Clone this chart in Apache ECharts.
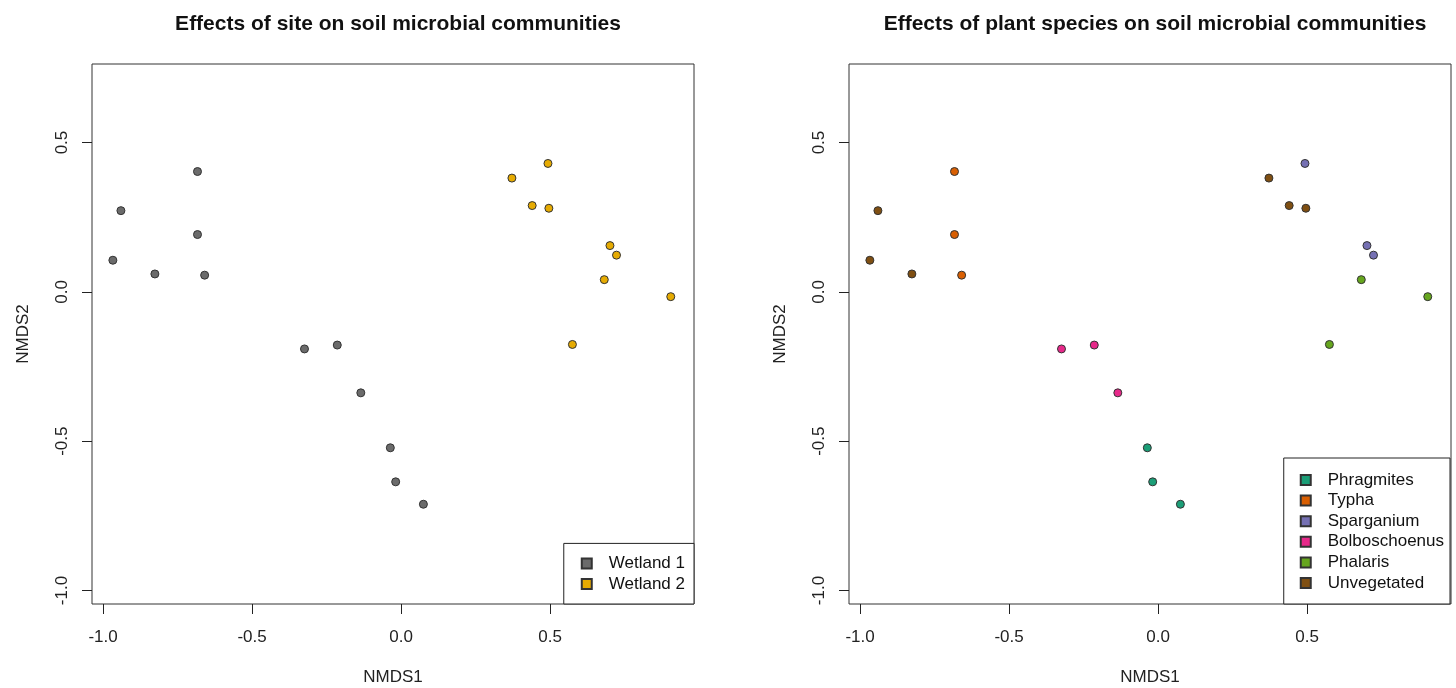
<!DOCTYPE html>
<html>
<head>
<meta charset="utf-8">
<title>NMDS soil microbial communities</title>
<script src="https://cdn.jsdelivr.net/npm/echarts@6/dist/echarts.min.js"></script>
<style>
  html, body { margin: 0; padding: 0; background: #fff; }
  #chart { width: 1456px; height: 688px; }
</style>
</head>
<body>
<div id="chart"></div>
<script>
// NMDS scores  [NMDS1, NMDS2]
const wetland1 = [
    [-0.967, 0.106], [-0.940, 0.272], [-0.826, 0.060],
    [-0.683, 0.403], [-0.683, 0.192], [-0.659, 0.056],
    [-0.324, -0.191], [-0.214, -0.178], [-0.135, -0.338],
    [-0.036, -0.522], [-0.018, -0.636], [0.075, -0.711]
];
const wetland2 = [
    [0.493, 0.430], [0.372, 0.381], [0.440, 0.289],
    [0.496, 0.280], [0.701, 0.155], [0.723, 0.123],
    [0.682, 0.041], [0.905, -0.016], [0.575, -0.176]
];

const phragmites = [[-0.036, -0.522], [-0.018, -0.636], [0.075, -0.711]];
const typha = [[-0.683, 0.403], [-0.683, 0.192], [-0.659, 0.056]];
const sparganium = [[0.493, 0.430], [0.701, 0.155], [0.723, 0.123]];
const bolboschoenus = [[-0.324, -0.191], [-0.214, -0.178], [-0.135, -0.338]];
const phalaris = [[0.682, 0.041], [0.905, -0.016], [0.575, -0.176]];
const unvegetated = [
    [-0.967, 0.106], [-0.940, 0.272], [-0.826, 0.060],
    [0.372, 0.381], [0.440, 0.289], [0.496, 0.280]
];

const siteNames = ['Wetland 1', 'Wetland 2'];
const siteColors = ['#6b6b6b', '#E6AB02'];
const speciesNames = ['Phragmites', 'Typha', 'Sparganium', 'Bolboschoenus', 'Phalaris', 'Unvegetated'];
const speciesColors = ['#1B9E77', '#D95F02', '#7570B3', '#E7298A', '#66A61E', '#7F4F12'];
const tickValues = [-1.0, -0.5, 0.0, 0.5];

const FONT = '"Liberation Sans", Arial, sans-serif';

const makeX = (idx) => ({
    gridIndex: idx,
    type: 'value',
    min: -1.037,
    max: 0.983,
    name: 'NMDS1',
    nameLocation: 'middle',
    nameGap: 65,
    nameTextStyle: { fontFamily: FONT, fontSize: 17, color: '#222' },
    axisLine: { show: false, onZero: false },
    axisTick: { show: true, inside: false, length: 10, customValues: tickValues,
        lineStyle: { color: '#222', width: 1 } },
    axisLabel: { customValues: tickValues, margin: 25, fontFamily: FONT, fontSize: 17, color: '#222',
        formatter: v => v.toFixed(1) },
    splitLine: { show: false }
});

const makeY = (idx) => ({
    gridIndex: idx,
    type: 'value',
    min: -1.045,
    max: 0.763,
    name: 'NMDS2',
    nameLocation: 'middle',
    nameGap: 60,
    nameTextStyle: { fontFamily: FONT, fontSize: 17, color: '#222' },
    axisLine: { show: false, onZero: false },
    axisTick: { show: true, inside: false, length: 10, customValues: tickValues,
        lineStyle: { color: '#222', width: 1 } },
    axisLabel: { customValues: tickValues, margin: 21, rotate: 90, fontFamily: FONT, fontSize: 17, color: '#222',
        formatter: v => v.toFixed(1) },
    splitLine: { show: false }
});

const makeSeries = (name, data, color, idx) => ({
    name: name,
    type: 'scatter',
    xAxisIndex: idx,
    yAxisIndex: idx,
    data: data,
    symbol: 'circle',
    symbolSize: 8,
    itemStyle: { color: color, borderColor: '#333', borderWidth: 1, opacity: 1 },
    emphasis: { disabled: true }
});

const legendBase = {
    orient: 'vertical',
    icon: 'rect',
    itemWidth: 10,
    itemHeight: 10,
    itemGap: 2.6,
    backgroundColor: '#fff',
    borderColor: '#222',
    borderWidth: 1,
    borderRadius: 0,
    textStyle: { fontFamily: FONT, fontSize: 17, color: '#111', lineHeight: 18, padding: [0, 0, 0, 12] }
};

const chart = echarts.init(document.getElementById('chart'));
chart.setOption({
    animation: false,
    backgroundColor: '#fff',
    title: [
        { text: 'Effects of site on soil microbial communities', left: 393, top: 9, textAlign: 'center',
          textStyle: { fontFamily: FONT, fontSize: 21, fontWeight: 'bold', color: '#111' } },
        { text: 'Effects of plant species on soil microbial communities', left: 1150, top: 9, textAlign: 'center',
          textStyle: { fontFamily: FONT, fontSize: 21, fontWeight: 'bold', color: '#111' } }
    ],
    grid: [
        { left: 92, top: 64, width: 602, height: 540, outerBoundsMode: 'none', containLabel: false,
          show: true, borderColor: '#333', borderWidth: 1, backgroundColor: '#fff' },
        { left: 849, top: 64, width: 602, height: 540, outerBoundsMode: 'none', containLabel: false,
          show: true, borderColor: '#333', borderWidth: 1, backgroundColor: '#fff' }
    ],
    xAxis: [makeX(0), makeX(1)],
    yAxis: [makeY(0), makeY(1)],
    legend: [
        Object.assign({}, legendBase, { data: siteNames, right: 762, bottom: 84, padding: [11, 9, 11, 17] }),
        Object.assign({}, legendBase, { data: speciesNames, right: 6, bottom: 84, padding: [13, 6, 12, 16] })
    ],
    series: [
        makeSeries(siteNames[0], wetland1, siteColors[0], 0),
        makeSeries(siteNames[1], wetland2, siteColors[1], 0),
        makeSeries(speciesNames[0], phragmites, speciesColors[0], 1),
        makeSeries(speciesNames[1], typha, speciesColors[1], 1),
        makeSeries(speciesNames[2], sparganium, speciesColors[2], 1),
        makeSeries(speciesNames[3], bolboschoenus, speciesColors[3], 1),
        makeSeries(speciesNames[4], phalaris, speciesColors[4], 1),
        makeSeries(speciesNames[5], unvegetated, speciesColors[5], 1)
    ]
});
</script>
</body>
</html>
